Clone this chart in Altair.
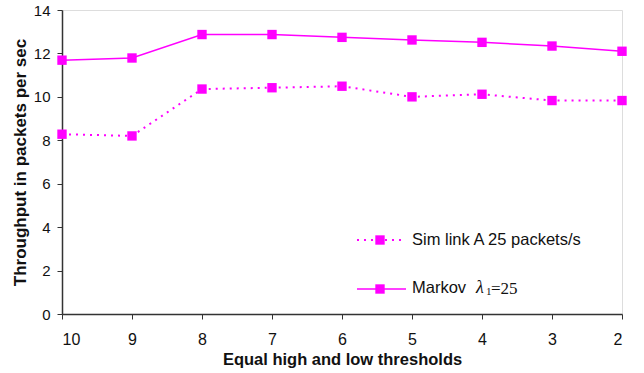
import altair as alt
import pandas as pd

thresholds = [10, 9, 8, 7, 6, 5, 4, 3, 2]
markov = [11.69, 11.79, 12.87, 12.87, 12.74, 12.62, 12.51, 12.34, 12.10]
sim = [8.28, 8.20, 10.36, 10.42, 10.49, 10.00, 10.12, 9.83, 9.83]
y_ticks = [0, 2, 4, 6, 8, 10, 12, 14]
legend_sim = "Sim link A 25 packets/s"
legend_markov = "Markov"

MAG = "#FF00FF"
FONT = "Liberation Sans"

df = pd.DataFrame({"t": thresholds, "markov": markov, "sim": sim})

x_enc = alt.X(
    "t:Q",
    scale=alt.Scale(domain=[2, 10], reverse=True, nice=False, zero=False),
    axis=alt.Axis(
        values=thresholds, format="d", title="Equal high and low thresholds",
        grid=False, tickSize=5, labelPadding=12, titlePadding=4,
        labelFontSize=16, titleFontSize=16.5, titleFontWeight="bold",
        labelFont=FONT, titleFont=FONT, domainColor="#333", tickColor="#333",
        labelColor="#111", titleColor="#111", domainWidth=1.5,
    ),
)
y_axis = alt.Axis(
    values=y_ticks, title="Throughput in packets per sec", grid=False,
    tickSize=5, labelPadding=7, titlePadding=4, labelFontSize=15,
    titleFontSize=17, titleFontWeight="bold", labelFont=FONT, titleFont=FONT,
    domainColor="#333", tickColor="#333", labelColor="#111", titleColor="#111",
    domainWidth=1.5,
)
y_scale = alt.Scale(domain=[0, 14], nice=False)

base = alt.Chart(df).encode(x=x_enc)

sim_line = base.mark_line(color=MAG, strokeWidth=2, strokeDash=[2, 5]).encode(
    y=alt.Y("sim:Q", scale=y_scale, axis=y_axis))
sim_pts = base.mark_square(color=MAG, size=88, opacity=1).encode(
    y=alt.Y("sim:Q", scale=y_scale))
mk_line = base.mark_line(color=MAG, strokeWidth=1.5).encode(
    y=alt.Y("markov:Q", scale=y_scale))
mk_pts = base.mark_square(color=MAG, size=88, opacity=1).encode(
    y=alt.Y("markov:Q", scale=y_scale))

one = pd.DataFrame({"k": [0]})
leg = []
leg.append(alt.Chart(one).mark_rule(color=MAG, strokeWidth=2, strokeDash=[2, 5]).encode(
    x=alt.value(295), x2=alt.value(344), y=alt.value(230)))
leg.append(alt.Chart(one).mark_square(color=MAG, size=88, opacity=1).encode(
    x=alt.value(318), y=alt.value(230)))
leg.append(alt.Chart(one).mark_text(align="left", baseline="middle", font=FONT,
                                    fontSize=16.5, color="#111").encode(
    x=alt.value(350), y=alt.value(230), text=alt.value(legend_sim)))
leg.append(alt.Chart(one).mark_rule(color=MAG, strokeWidth=1.5).encode(
    x=alt.value(295), x2=alt.value(344), y=alt.value(279)))
leg.append(alt.Chart(one).mark_square(color=MAG, size=88, opacity=1).encode(
    x=alt.value(318), y=alt.value(279)))
leg.append(alt.Chart(one).mark_text(align="left", baseline="middle", font=FONT,
                                    fontSize=16.5, color="#111").encode(
    x=alt.value(350), y=alt.value(278), text=alt.value(legend_markov)))
leg.append(alt.Chart(one).mark_text(align="left", baseline="middle", font="Liberation Serif",
                                    fontStyle="italic", fontSize=18, color="#111").encode(
    x=alt.value(414), y=alt.value(278), text=alt.value("λ")))
leg.append(alt.Chart(one).mark_text(align="left", baseline="middle", font="Liberation Serif",
                                    fontSize=11, color="#111").encode(
    x=alt.value(424), y=alt.value(282), text=alt.value("1")))
leg.append(alt.Chart(one).mark_text(align="left", baseline="middle", font="Liberation Serif",
                                    fontSize=17, color="#111").encode(
    x=alt.value(429), y=alt.value(279), text=alt.value("=25")))

chart = alt.layer(sim_line, sim_pts, mk_line, mk_pts, *leg).properties(
    width=560, height=304,
    autosize=alt.AutoSizeParams(type="none"),
    padding={"left": 62, "top": 10, "right": 22, "bottom": 59},
).configure_view(stroke="#a0a0a0", strokeWidth=1.5).configure(background="white")

chart.save("out.html", embed_options={"renderer": "svg", "actions": False})
